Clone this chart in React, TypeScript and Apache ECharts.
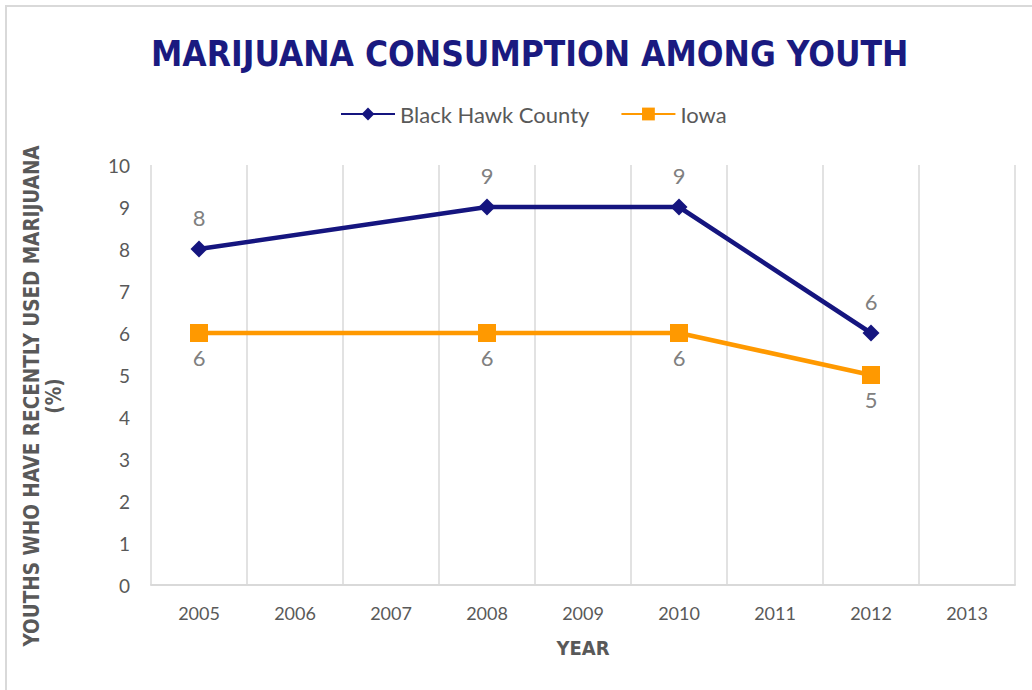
import React, { useEffect, useRef } from "react";
import * as echarts from "echarts";

const years = ["2005", "2006", "2007", "2008", "2009", "2010", "2011", "2012", "2013"];
const blackHawk: (number | null)[] = [8, null, null, 9, null, 9, null, 6, null];
const iowa: (number | null)[] = [6, null, null, 6, null, 6, null, 5, null];
const yTicks = { min: 0, max: 10, interval: 1 };

const NAVY = "#15157f";
const ORANGE = "#ff9900";
const GRAY = "#595959";

export default function App() {
  const ref = useRef<HTMLDivElement>(null);
  useEffect(() => {
    document.body.style.margin = "0";
    const chart = echarts.init(ref.current!, null, { renderer: "svg" });
    chart.setOption({
      animation: false,
      backgroundColor: "#ffffff",
      title: {
        text: "MARIJUANA CONSUMPTION AMONG YOUTH",
        left: 146,
        top: 31,
        textStyle: {
          fontFamily: "DejaVu Sans Condensed",
          fontWeight: "bold",
          fontSize: 35,
          color: "#1a1a80",
        },
      },
      legend: {
        top: 98,
        left: 335,
        itemWidth: 54,
        itemHeight: 16,
        itemGap: 31,
        textStyle: { fontFamily: "Lato", fontSize: 22, color: GRAY },
        data: ["Black Hawk County", "Iowa"],
      },
      graphic: [
        {
          type: "rect",
          shape: { x: 6, y: 6, width: 1040, height: 700 },
          style: { fill: "none", stroke: "#d9d9d9", lineWidth: 2 },
          silent: true,
        },
      ],
      grid: { left: 151, right: 17, top: 165, bottom: 105 },
      xAxis: {
        type: "category",
        data: years,
        boundaryGap: true,
        name: "YEAR",
        nameLocation: "middle",
        nameGap: 53,
        nameTextStyle: { fontFamily: "DejaVu Sans Condensed", fontWeight: "bold", fontSize: 20, color: GRAY },
        axisLine: { lineStyle: { color: "#d9d9d9", width: 2 } },
        axisTick: { show: false },
        axisLabel: { fontFamily: "Lato", fontSize: 18, color: GRAY, margin: 19 },
        splitLine: { show: true, lineStyle: { color: "#d9d9d9", width: 1.5 } },
      },
      yAxis: {
        type: "value",
        min: yTicks.min,
        max: yTicks.max,
        interval: yTicks.interval,
        name: "YOUTHS WHO HAVE RECENTLY USED MARIJUANA\n(%)",
        nameLocation: "middle",
        nameGap: 86,
        nameRotate: 90,
        nameTextStyle: {
          fontFamily: "DejaVu Sans Condensed",
          fontWeight: "bold",
          fontSize: 20.5,
          color: GRAY,
          lineHeight: 22,
          align: "center",
          padding: [0, 42, 0, 0],
        },
        axisLine: { show: false },
        axisTick: { show: false },
        splitLine: { show: false },
        axisLabel: { fontFamily: "Lato", fontSize: 19, color: GRAY, margin: 21 },
      },
      series: [
        {
          name: "Black Hawk County",
          type: "line",
          data: blackHawk,
          connectNulls: true,
          symbol: "diamond",
          symbolSize: 17,
          lineStyle: { color: NAVY, width: 4.5 },
          itemStyle: { color: NAVY },
          label: {
            show: true,
            position: "top",
            distance: 12,
            fontFamily: "Lato",
            fontSize: 22,
            color: "#808080",
          },
        },
        {
          name: "Iowa",
          type: "line",
          data: iowa,
          connectNulls: true,
          symbol: "rect",
          symbolSize: 18,
          lineStyle: { color: ORANGE, width: 4.5 },
          itemStyle: { color: ORANGE },
          label: {
            show: true,
            position: "bottom",
            distance: 4,
            fontFamily: "Lato",
            fontSize: 22,
            color: "#808080",
          },
        },
      ],
    });
    return () => chart.dispose();
  }, []);
  return <div ref={ref} style={{ width: 1032, height: 690 }} />;
}
